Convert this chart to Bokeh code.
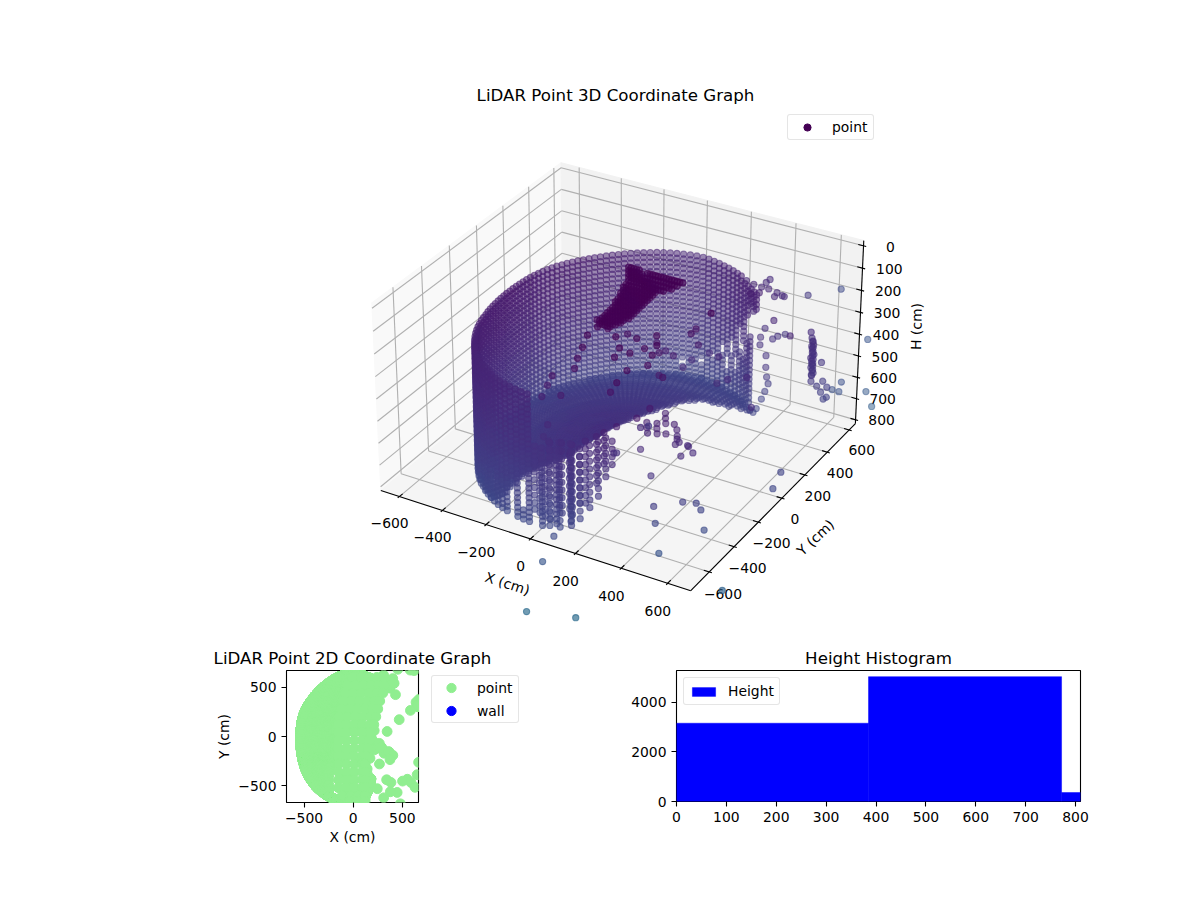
import numpy as np
from bokeh.embed import file_html
from bokeh.resources import INLINE
from bokeh.plotting import figure
from bokeh.layouts import column, row
from bokeh.models import Range1d, Legend, LegendItem, ColumnDataSource, FixedTicker, LinearColorMapper
from bokeh.palettes import Viridis256
from bokeh.core.properties import value

FONT = "DejaVu Sans"
TITLES = ["LiDAR Point 3D Coordinate Graph", "LiDAR Point 2D Coordinate Graph", "Height Histogram"]
x_ticks = [-600, -400, -200, 0, 200, 400, 600]
y_ticks = [-600, -400, -200, 0, 200, 400, 600]
h_ticks = [0, 100, 200, 300, 400, 500, 600, 700, 800]

# ---- wall columns (polar, centre at the sensor)
wall_angle = [58,60.5,63,65.5,68,70.5,73,75.5,78,80.5,83,85.5,88,90.5,93,95.5,98,100.5,103,105.5,
              108,110.5,113,115.5,118,120.5,123,125.5,128,130.5,133,135.5,138,140.5,143,145.5,148,150.5,153,155.5,
              158,160.5,163,165.5,168,170.5,173,175.5,178,180.5,183,185.5,188,190.5,193,195.5,198,200.5,203,205.5,
              208,210.5,213,215.5,218,220.5,223,225.5,228,230.5,233,235.5,238,240.5,243,245.5,248,250.5,253,255.5,
              258,260.5,263,265.5,268,270.5,273,275.5,278,280.5,283]
wall_radius = [590,594,598,602,606,610,614,618,622,626,630,634,638,640,638,635,630,626,622,617,
               612,606,600,595,590,585,580,576,572,568,565,562,560,558,556,555,553,552,550,548,
               546,544,542,540,538,536,535,534,534,534,535,536,538,540,543,546,550,554,558,564,
               570,576,582,588,594,600,606,612,618,624,630,635,640,644,648,652,656,660,662,664,
               665,666,667,667,666,664,660,655,650,645,640]
wall_top = [240,236,232,232,232,230,230,230,230,230,230,230,230,230,230,230,230,230,230,230,
            230,230,230,230,230,230,230,230,230,230,230,230,230,230,230,230,230,230,230,230,
            230,230,230,230,230,230,230,230,230,230,230,230,230,230,230,230,230,230,230,230,
            230,230,230,230,230,230,230,230,230,230,230,230,230,230,230,230,230,230,230,230,
            230,230,230,230,430,430,430,440,440,450,450]
wall_bottom = [330,360,780,790,800,800,800,800,800,800,800,800,800,800,800,800,800,800,800,800,
               800,800,800,800,800,800,800,800,800,800,800,800,800,800,800,800,800,800,800,800,
               800,800,800,800,800,800,800,800,800,800,800,800,800,800,800,800,800,800,800,800,
               800,800,800,800,800,800,800,800,800,800,800,800,800,800,800,800,800,800,800,800,
               800,800,800,800,800,800,800,795,790,790,785]
wall_levels = [230,252,274,296,318,340,362,384,406,428,450,472,494,516,538,560,582,604,626,648,670,692,714,736,758,780,800]
gap_angle = [63,65.5,68,70.5,73,75.5,78,80.5,85.5,90.5,98,238,248,258,263,268,273,278,283]
gap_from = [340,400,520,470,620,560,640,600,660,700,720,700,640,640,600,560,430,430,430]
gap_to = [470,500,600,560,680,610,700,630,690,730,750,800,720,800,740,800,800,800,800]

# ---- floor rings
floor_inner = [575,570,560,550,535,525,515,505,500,495,470,445,420,395,370,345,325,305,290,275,
               262,250,240,230,222,214,206,200,194,188,182,178,174,170,166,162,158,155,152,150,
               148,146,145,144,143,143,143,143,143,143,145,148,151,155,158,162,166,170,176,182,
               188,194,200,208,216,225,233,241,300,340,380,420,460,500,540,580,9999,9999,9999,9999,
               9999,9999,9999,9999,9999,9999,9999,9999,9999,9999,9999]
floor_radius = [145,158,171,184,197,210,223,236,249,262,275,288,301,314,327,340,353,366,379,392,405,418,431,444,457,470,
                483,496,509,522,535,548,561,574,587,600,613,626,639,652]
floor_height = [790,792,794,796,798,800,802,800,798,796,798,800,802,804,802,800,798,800,802,804,802,800,798,800,802,800,
                798,800,802,804,802,800,798,796,798,800,802,800,798,800]

# ---- lower front columns
front_x = [10,30,50,70,90,110,120,130,140,150,150,165,175,180,-20,-50,-80,20,60,100]
front_y = [-610,-650,-590,-640,-580,-625,-530,-590,-480,-550,-440,-510,-470,-430,-600,-590,-580,-560,-550,-540]
front_top = [430,420,430,420,430,420,430,440,440,440,450,450,450,470,560,560,560,520,520,520]
front_bottom = [800,800,780,800,780,790,740,790,680,760,620,720,660,600,800,800,800,770,770,750]
front_levels = [420,455,490,525,560,595,630,665,700,735,770,800]

# ---- dense overhead patch: rows of height with an X span, at one Y
patch_y = 60
patch_h = [15,30,45,60,75,95,110,125,140,155,170,185,200,215,230,245,260,275,290,305,20,40,60,80]
patch_x0 = [-35,-30,-30,-35,-30,-45,-50,-55,-65,-70,-80,-90,-95,-100,-115,-125,-140,-155,-170,-160,50,50,45,40]
patch_x1 = [30,40,50,70,100,100,85,70,60,50,35,25,15,5,-5,-20,-40,-55,-80,-110,225,200,170,130]
patch_xs = [-170,-158,-146,-134,-122,-110,-98,-86,-74,-62,-50,-38,-26,-14,-2,10,22,34,46,58,70,82,94,106,118,130,142,154,166,178,190,202,214,226]

# ---- single returns
single_x = [309,416,453,522,402,383,360,325,311,322,671,706,722,622,580,611,
            647,668,639,661,699,679,673,696,684,360,364,372,371,350,328,307,307,
            655,662,658,664,657,661,656,663,659,665,660,655,662,658,664,657,661,656,663,659,665,660,658,
            468,137,156,175,194,214,166,185,205,244,266,290,301,319,314,359,366,403,374,
            761,789,135,255,431,804,74,345,550,502,588,629,559,384,447,267,135,
            277,245,310,340,378,480,665,650,582,430,
            -39,-103,-93,-110,81,-95,-5,113,108,41,63,102,34,-107,116,163,-111,-16,118,-65,-1,142,-43,16,80,142,171,156,142,23,84,
            160,162,150,-13,-1,45,60,53,110,200,120,230,60,
            223,263,301,333,376,315,289,299,382,405]
single_y = [624,540,682,846,588,559,560,559,549,523,800,729,757,670,674,673,
            317,377,348,356,369,372,368,375,371,504,497,491,508,522,537,534,477,
            310,305,312,308,306,311,313,307,309,312,310,305,312,308,306,311,313,307,309,312,310,305,312,
            171,-81,-115,-67,-102,-136,18,-16,-50,-119,-70,-111,-132,-148,-170,-153,-158,-191,-235,
            -145,-266,-879,-1193,-1136,-695,-694,51,-434,-453,-467,-516,-741,-467,-568,-279,-127,
            -112,-530,-622,-439,-561,-683,-262,-388,265,425,
            -161,31,-146,-156,-228,174,89,-255,-166,70,129,60,202,-200,-299,-87,-386,-376,-206,-497,-505,-376,-575,-632,-641,-329,-221,-91,37,-675,-226,
            276,232,317,268,320,301,356,168,-27,400,470,330,430,
            584,571,566,566,555,519,494,610,521,543]
single_h = [240,250,300,330,450,450,470,430,470,490,500,700,780,650,700,700,
            240,400,480,500,500,480,530,550,560,520,570,610,650,700,750,800,780,
            261,270,278,287,295,302,310,318,325,333,340,348,355,362,370,378,385,392,400,408,415,423,430,
            560,600,600,600,600,600,600,600,600,600,600,600,600,600,600,600,600,600,600,
            600,600,800,800,800,810,810,113,650,650,650,700,700,700,700,700,700,
            550,470,400,400,300,200,150,100,250,300,
            179,298,239,293,157,389,343,184,252,366,330,330,452,320,202,284,307,252,307,280,302,311,284,361,416,489,498,525,452,389,361,
            343,343,439,452,511,511,588,534,375,520,560,600,590,
            250,250,250,250,250,250,250,250,250,250]

# returns seen only in the plan view (hidden inside the 3D cloud)
plan_x = [0,80,160,240,310, -60,20,100,180,260,310, -80,0,80,160,240,300, -100,-20,60,140,220,270,
          -120,-40,40,120,200,250, -140,-60,20,100,180,230, -150,-70,10,90,170,210, -150,-70,10,90,170,185,
          -150,-70,10,90,165, -150,-70,10,90,150, -150,-70,10,90,130, -150,-70,10,90,122,
          -150,-70,10,90,122, -150,-70,10,90,122, -150,-70,10,90,122, -110,-30,50,122, -40,40,122]
plan_y = [600,600,600,600,600, 520,520,520,520,520,520, 440,440,440,440,440,440, 360,360,360,360,360,360,
          280,280,280,280,280,280, 200,200,200,200,200,200, 120,120,120,120,120,120, 40,40,40,40,40,40,
          -40,-40,-40,-40,-40, -120,-120,-120,-120,-120, -200,-200,-200,-200,-200, -280,-280,-280,-280,-280,
          -360,-360,-360,-360,-360, -440,-440,-440,-440,-440, -520,-520,-520,-520,-520, -600,-600,-600,-600, -660,-660,-660]

hist_left = [0, 385, 772]
hist_right = [385, 772, 810]
hist_count = [3160, 5040, 360]

# ---- assemble the point table from the lists above
xs, ys, hs = [], [], []
for i, (a, r) in enumerate(zip(wall_angle, wall_radius)):
    px, py = r * np.cos(np.radians(a)), r * np.sin(np.radians(a))
    for lev in wall_levels:
        if lev < wall_top[i] or lev > wall_bottom[i]:
            continue
        if a in gap_angle:
            g = gap_angle.index(a)
            if gap_from[g] <= lev <= gap_to[g]:
                continue
        xs.append(px); ys.append(py); hs.append(lev)
    for fr, fh in zip(floor_radius, floor_height):
        if floor_inner[i] <= fr <= r:
            xs.append(fr * np.cos(np.radians(a))); ys.append(fr * np.sin(np.radians(a))); hs.append(fh)
for fx, fy, t, b in zip(front_x, front_y, front_top, front_bottom):
    for lev in front_levels:
        if t <= lev <= b:
            xs.append(fx); ys.append(fy); hs.append(lev)
for h, x0, x1 in zip(patch_h, patch_x0, patch_x1):
    for px in patch_xs:
        if x0 <= px <= x1:
            xs.append(px); ys.append(patch_y); hs.append(h)
xs += single_x; ys += single_y; hs += single_h
xs, ys, hs = np.array(xs, float), np.array(ys, float), np.array(hs, float)

# ---- camera of the 3D box
XLO, XHI, YLO, YHI, HLO, HHI = -687.0, 698.0, -745.0, 658.0, -23.0, 818.0
BX, BY, BZ = 1.19, 1.19, 0.72
KK, CX, CY = 2971.0, 622.0, 365.0
el, az = np.radians(30), np.radians(-60)
W = np.array([np.cos(el) * np.cos(az), np.cos(el) * np.sin(az), np.sin(el)])
U = np.array([-np.sin(az), np.cos(az), 0.0])
V = np.cross(W, U)


def depth(X, Y, H):
    dx = (np.asarray(X, float) - (XLO + XHI) / 2) * BX / (XHI - XLO)
    dy = (np.asarray(Y, float) - (YLO + YHI) / 2) * BY / (YHI - YLO)
    dz = ((HLO + HHI) / 2 - np.asarray(H, float)) * BZ / (HHI - HLO)
    return dx, dy, dz, W[0] * dx + W[1] * dy + W[2] * dz


def proj(X, Y, H):
    dx, dy, dz, dw = depth(X, Y, H)
    f = 1.0 / (10.0 - dw)
    return CX + KK * (U[0] * dx + U[1] * dy) * f, CY - KK * (V[0] * dx + V[1] * dy + V[2] * dz) * f


def line3(p, a, b, **kw):
    px, py = proj([a[0], b[0]], [a[1], b[1]], [a[2], b[2]])
    p.line(list(px), list(py), **kw)


p3 = figure(width=1192, height=644, x_range=Range1d(38, 1192), y_range=Range1d(644, 104),
            toolbar_location=None, output_backend="svg", title=TITLES[0],
            min_border_left=38, min_border_right=0, min_border_bottom=0, min_border_top=104)
p3.axis.visible = False
p3.grid.visible = False
p3.outline_line_color = None
p3.title.align = "center"
p3.title.text_font = FONT
p3.title.text_font_size = "16.67px"
p3.title.text_font_style = "normal"
p3.title.text_color = "black"
p3.title.standoff = 0

# panes
for corners, col in [
    ([(XLO, YLO, HHI), (XLO, YHI, HHI), (XLO, YHI, HLO), (XLO, YLO, HLO)], "#f9f9f9"),
    ([(XLO, YHI, HHI), (XHI, YHI, HHI), (XHI, YHI, HLO), (XLO, YHI, HLO)], "#f2f2f2"),
    ([(XLO, YLO, HHI), (XHI, YLO, HHI), (XHI, YHI, HHI), (XLO, YHI, HHI)], "#f5f5f5"),
]:
    c = np.array(corners)
    px, py = proj(c[:, 0], c[:, 1], c[:, 2])
    p3.patch(list(px), list(py), fill_color=col, line_color=col, line_width=1.1)

GRID = dict(line_color="#b0b0b0", line_width=1.1)
for t in x_ticks:
    line3(p3, (t, YLO, HHI), (t, YHI, HHI), **GRID)
    line3(p3, (t, YHI, HHI), (t, YHI, HLO), **GRID)
for t in y_ticks:
    line3(p3, (XHI, t, HHI), (XLO, t, HHI), **GRID)
    line3(p3, (XLO, t, HHI), (XLO, t, HLO), **GRID)
for t in h_ticks:
    line3(p3, (XLO, YLO, t), (XLO, YHI, t), **GRID)
    line3(p3, (XLO, YHI, t), (XHI, YHI, t), **GRID)

AX = dict(line_color="black", line_width=1.1)
line3(p3, (XLO, YLO, HHI), (XHI, YLO, HHI), **AX)
line3(p3, (XHI, YLO, HHI), (XHI, YHI, HHI), **AX)
line3(p3, (XHI, YHI, HHI), (XHI, YHI, HLO), **AX)
dx_t, dy_t = (XHI - XLO) / 12, (YHI - YLO) / 12
lab = dict(text_font=value(FONT), text_font_size="13.9px", text_color="black",
           text_align="center", text_baseline="middle")
for t in x_ticks:
    line3(p3, (t, YLO - .1 * dy_t, HHI), (t, YLO + .2 * dy_t, HHI), **AX)
    lx, ly = proj(t, YLO - 75, HHI + 83)
    p3.text([float(lx)], [float(ly)], text=[str(t).replace("-", "\u2212")], **lab)
for t in y_ticks:
    line3(p3, (XHI + .1 * dx_t, t, HHI), (XHI - .2 * dx_t, t, HHI), **AX)
    lx, ly = proj(XHI + 60, t, HHI + 78)
    p3.text([float(lx)], [float(ly)], text=[str(t).replace("-", "\u2212")], **lab)
for t in h_ticks:
    line3(p3, (XHI + .1 * dx_t, YHI, t), (XHI - .2 * dx_t, YHI, t), **AX)
    lx, ly = proj(XHI + 80, YHI + 80, t + 20)
    p3.text([float(lx)], [float(ly)], text=[str(t)], **lab)

p3.text([507], [583], text=["X (cm)"], angle=[np.radians(-18)], **lab)
p3.text([815], [537], text=["Y (cm)"], angle=[np.radians(43)], **lab)
p3.text([916], [326], text=["H (cm)"], angle=[np.radians(89)], **lab)

# points, far to near, faded with depth as a 3D scatter does
dist = np.sqrt(xs ** 2 + ys ** 2 + hs ** 2)
sx, sy = proj(xs, ys, hs)
dw = depth(xs, ys, hs)[3]
order = np.argsort(dw)
norm = (dw - dw.min()) / (dw.max() - dw.min())
alpha = 0.68 * (0.7 + 0.3 * norm)
mapper = LinearColorMapper(palette=Viridis256, low=350, high=3500)
src = ColumnDataSource(dict(x=sx[order], y=sy[order], c=dist[order], a=alpha[order]))
p3.scatter("x", "y", source=src, size=6.2, line_width=1.1,
           fill_color={"field": "c", "transform": mapper}, line_color={"field": "c", "transform": mapper},
           fill_alpha="a", line_alpha="a")
proxy = p3.scatter([-100], [-100], size=7, color="#440154")


def style_legend(leg, padding, spacing, gw, gh, lw, standoff):
    leg.label_text_font = FONT
    leg.label_text_font_size = "13.9px"
    leg.label_text_color = "black"
    leg.border_line_color = "#cccccc"
    leg.border_line_width = 1.1
    leg.background_fill_alpha = 0.8
    leg.padding = padding
    leg.margin = 0
    leg.spacing = spacing
    leg.glyph_width = gw
    leg.glyph_height = gh
    leg.label_height = 14
    leg.label_width = lw
    leg.label_standoff = standoff
    if hasattr(leg, "border_radius"):
        leg.border_radius = 3


l3 = Legend(items=[LegendItem(label="point", renderers=[proxy])], location=(749, 504))
style_legend(l3, 3, 0, 32, 18, 38, 9)
p3.add_layout(l3, "center")


def style_axes(p):
    p.grid.visible = False
    p.outline_line_color = "black"
    p.outline_line_width = 1.1
    p.title.align = "center"
    p.title.text_font = FONT
    p.title.text_font_size = "16.67px"
    p.title.text_font_style = "normal"
    p.title.text_color = "black"
    p.title.standoff = 5
    for ax in p.axis:
        ax.axis_line_color = None
        ax.major_tick_line_color = "black"
        ax.major_tick_line_width = 1.1
        ax.major_tick_out = 5
        ax.major_tick_in = 0
        ax.minor_tick_line_color = None
        ax.major_label_text_font = FONT
        ax.major_label_text_font_size = "13.9px"
        ax.major_label_text_color = "black"
        ax.axis_label_text_font = FONT
        ax.axis_label_text_font_size = "13.9px"
        ax.axis_label_text_font_style = "normal"
        ax.axis_label_text_color = "black"
        ax.axis_label_standoff = 3


# 2D: its legend stands in the right-hand panel, outside the axes
p2 = figure(width=610, height=248, frame_width=132, frame_height=132,
            x_range=Range1d(-678, 664), y_range=Range1d(-670, 670),
            toolbar_location=None, output_backend="svg", title=TITLES[1],
            min_border_left=286, min_border_right=192, min_border_top=25, min_border_bottom=91,
            x_axis_label="X (cm)", y_axis_label="Y (cm)")
style_axes(p2)
tk = [-500, 0, 500]
over = {-500: "\u2212500", 0: "0", 500: "500"}
p2.xaxis.ticker = FixedTicker(ticks=tk)
p2.yaxis.ticker = FixedTicker(ticks=tk)
p2.xaxis.major_label_overrides = over
p2.yaxis.major_label_overrides = over
pts = p2.scatter(list(xs) + plan_x, list(ys) + plan_y, size=9.8, color="#90ee90")
wall = p2.scatter([-5000], [-5000], size=9.8, color="blue")
l2 = Legend(items=[LegendItem(label="point", renderers=[pts]), LegendItem(label="wall", renderers=[wall])],
            location=(13, 79))
style_legend(l2, 0, 0, 38, 23, 41, 7)
p2.add_layout(l2, "right")

# histogram; pulled left over the empty part of the panel beside the 2D legend
ph = figure(width=582, height=248, x_range=Range1d(0, 810), y_range=Range1d(0, 5290),
            toolbar_location=None, output_backend="svg", title=TITLES[2],
            min_border_left=66, min_border_right=112, min_border_top=25, min_border_bottom=91,
            margin=(0, 0, 0, -358))
style_axes(ph)
ph.xaxis.ticker = FixedTicker(ticks=[0, 100, 200, 300, 400, 500, 600, 700, 800])
ph.yaxis.ticker = FixedTicker(ticks=[0, 2000, 4000])
bars = ph.quad(left=hist_left, right=hist_right, bottom=[0, 0, 0], top=hist_count, color="blue", line_color="blue", line_width=0.5)
lh = Legend(items=[LegendItem(label="Height", renderers=[bars])], location="top_left")
style_legend(lh, 5, 0, 29, 11, 45, 10)
lh.margin = 7
ph.add_layout(lh, "center")

page = column(p3, row(p2, ph, spacing=0), spacing=0)
open("out.html", "w").write(file_html(page, INLINE))
